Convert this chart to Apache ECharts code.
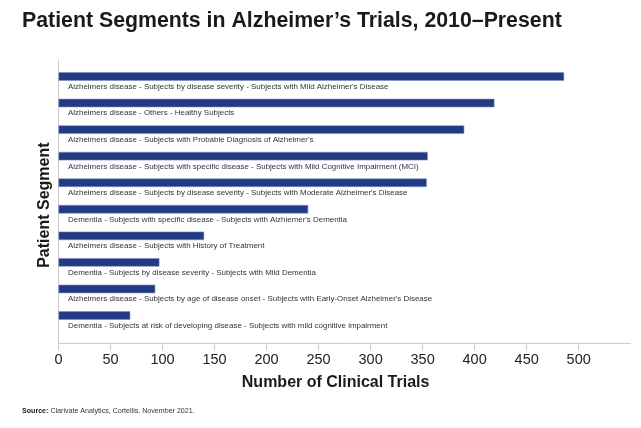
<!DOCTYPE html>
<html>
<head>
<meta charset="utf-8">
<script src="https://cdn.jsdelivr.net/npm/echarts@6/dist/echarts.min.js"></script>
<style>
html,body{margin:0;padding:0;background:#fff;}
#chart{width:641px;height:428px;}
</style>
</head>
<body>
<div id="chart"></div>
<script>
var categories = [
  "Alzheimers disease - Subjects by disease severity - Subjects with Mild Alzheimer's Disease",
  "Alzheimers disease - Others - Healthy Subjects",
  "Alzheimers disease - Subjects with Probable Diagnosis of Alzheimer's",
  "Alzheimers disease - Subjects with specific disease - Subjects with Mild Cognitive Impairment (MCI)",
  "Alzheimers disease - Subjects by disease severity - Subjects with Moderate Alzheimer's Disease",
  "Dementia - Subjects with specific disease - Subjects with Alzhiemer's Dementia",
  "Alzheimers disease - Subjects with History of Treatment",
  "Dementia - Subjects by disease severity - Subjects with Mild Dementia",
  "Alzheimers disease - Subjects by age of disease onset - Subjects with Early-Onset Alzheimer's Disease",
  "Dementia - Subjects at risk of developing disease - Subjects with mild cognitive impairment"
];
var trialCounts = [486, 419, 390, 355, 354, 240, 140, 97, 93, 69];
var xAxisMin = 0;
var xAxisMax = 550;
var xAxisStep = 50;

var titleText = "Patient Segments in Alzheimer\u2019s Trials, 2010\u2013Present";
var xAxisName = "Number of Clinical Trials";
var yAxisName = "Patient Segment";
var sourceLabel = "Source:";
var sourceText = "Clarivate Analytics, Cortellis. November 2021.";

var FONT = "'Liberation Sans', Arial, Helvetica, sans-serif";
var chart = echarts.init(document.getElementById('chart'), null, {renderer: 'canvas'});
chart.setOption({
  animation: false,
  backgroundColor: '#ffffff',
  textStyle: {fontFamily: FONT},
  title: [
    {
      text: titleText,
      left: 17, top: 6,
      textStyle: {fontFamily: FONT, fontSize: 21.3, fontWeight: 'bold', color: '#1a1a1a'}
    },
    {
      text: '{b|' + sourceLabel + '} {r|' + sourceText + '}',
      left: 17, top: 403,
      textStyle: {
        fontFamily: FONT, fontSize: 7.1, fontWeight: 'normal',
        rich: {
          b: {fontFamily: FONT, fontSize: 7.1, fontWeight: 'bold', color: '#1a1a1a'},
          r: {fontFamily: FONT, fontSize: 7.1, fontWeight: 'normal', color: '#333'}
        }
      }
    }
  ],
  grid: [
    {left: 58.5, right: 10.3, top: 63.2, bottom: 99.2, containLabel: false},
    {left: 58.5, right: 10.3, top: 60, bottom: 84.7, containLabel: false}
  ],
  xAxis: [
    {
      gridIndex: 0, type: 'value', min: xAxisMin, max: xAxisMax, interval: xAxisStep,
      show: false
    },
    {
      gridIndex: 1, type: 'value', min: xAxisMin, max: xAxisMax, interval: xAxisStep,
      axisLine: {show: true, lineStyle: {color: '#cccccc', width: 1}},
      axisTick: {show: true, length: 7, lineStyle: {color: '#cccccc', width: 1}},
      splitLine: {show: false},
      axisLabel: {showMaxLabel: false, fontFamily: FONT, fontSize: 14.5, color: '#222', margin: 9},
      name: xAxisName, nameLocation: 'middle', nameGap: 31,
      nameTextStyle: {fontFamily: FONT, fontSize: 16, fontWeight: 'bold', color: '#1a1a1a', padding: [0, 18, 0, 0]}
    }
  ],
  yAxis: [
    {
      gridIndex: 0, type: 'category', data: categories, inverse: true, show: false
    },
    {
      gridIndex: 1, type: 'value', min: 0, max: 1,
      axisLine: {show: true, lineStyle: {color: '#cccccc', width: 1}},
      axisTick: {show: false}, axisLabel: {show: false}, splitLine: {show: false},
      name: yAxisName, nameLocation: 'middle', nameGap: 6, nameRotate: 90,
      nameTextStyle: {fontFamily: FONT, fontSize: 16, fontWeight: 'bold', color: '#1a1a1a', padding: [0, 7, 0, 0]}
    }
  ],
  series: [
    {
      type: 'bar', xAxisIndex: 0, yAxisIndex: 0,
      data: trialCounts,
      barWidth: 8.5,
      itemStyle: {color: '#223a81', borderColor: '#7f90c4', borderWidth: 0.6},
      label: {
        show: true,
        position: [9.5, 14.5],
        verticalAlign: 'middle', align: 'left',
        formatter: function (p) { return categories[p.dataIndex]; },
        fontFamily: FONT, fontSize: 7.95, color: '#333'
      }
    }
  ]
});
</script>
</body>
</html>
